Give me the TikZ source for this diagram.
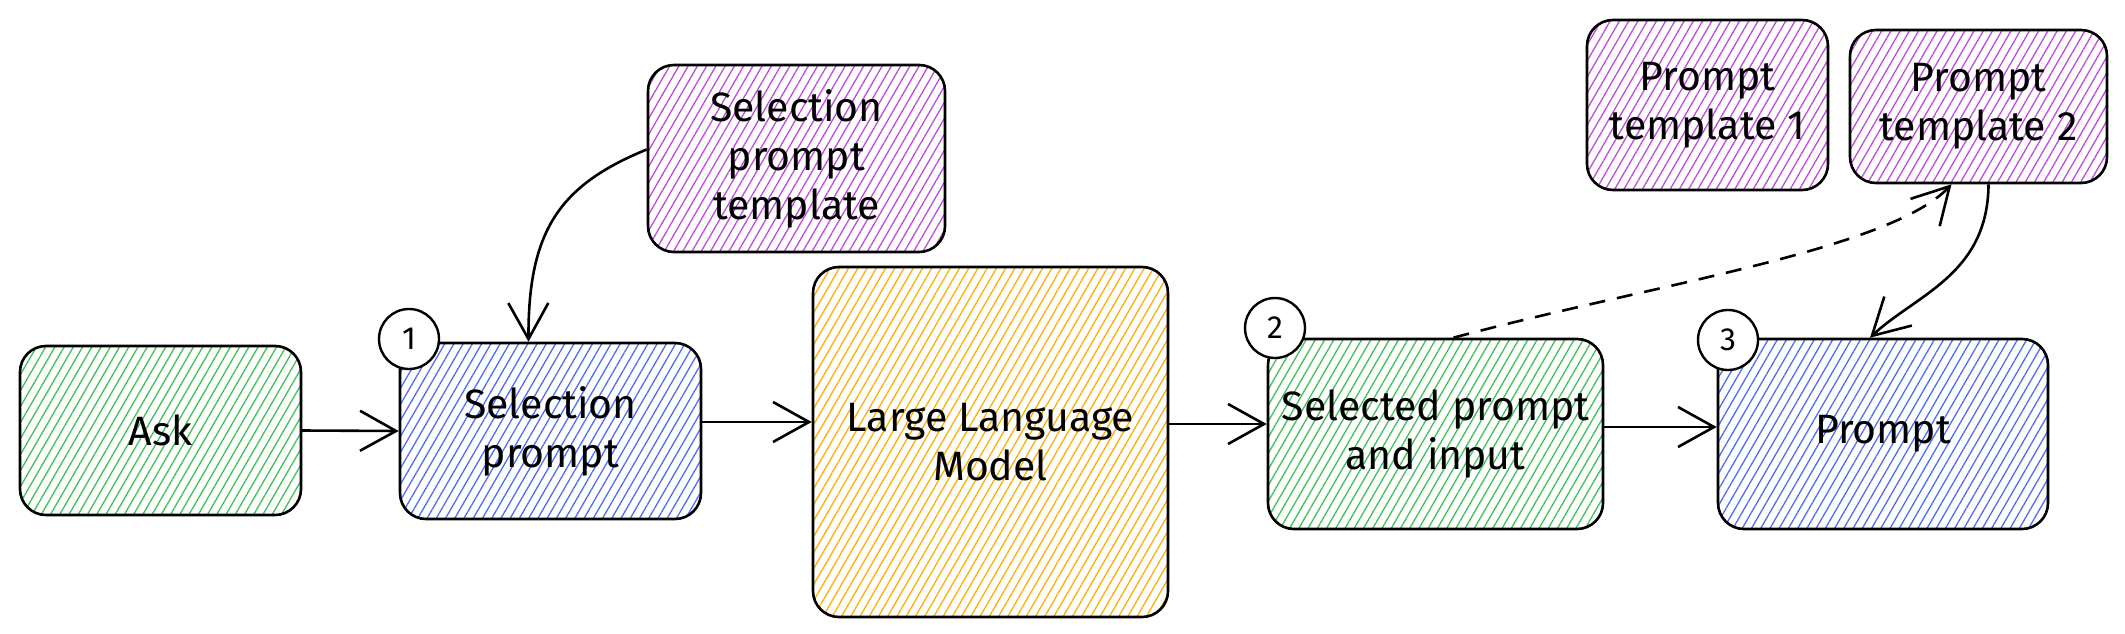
\documentclass[tikz,border=0pt]{standalone}
\usepackage{fontspec}
\setmainfont{Fira Sans}
\usetikzlibrary{arrows.meta,patterns.meta}
\definecolor{cgreen}{HTML}{40C057}
\definecolor{cblue}{HTML}{4C6EF5}
\definecolor{cpurple}{HTML}{BE4BDB}
\definecolor{corange}{HTML}{FAB005}
\tikzset{
  box/.style={draw=black, line width=2.6pt, rounded corners=26pt, align=center,
    font=\fontsize{41}{49}\selectfont, inner sep=4pt},
  hatch/.style={pattern={Lines[angle=60,distance=8pt,line width=1.3pt]}, pattern color=#1},
  numc/.style={circle, draw=black, line width=2.4pt, fill=white, minimum size=60pt,
    inner sep=0pt, font=\fontsize{32}{34}\selectfont},
  arr/.style={line width=2.6pt, -{Straight Barb[length=36pt,width=40pt,line width=2.6pt]}},
}
\begin{document}
\begin{tikzpicture}[x=1pt,y=-1pt]
\useasboundingbox (0,0) rectangle (2125,634);
\node[box, hatch=cgreen, minimum width=281pt, minimum height=169pt] (ask) at (160.5,430.5) {Ask};
\node[box, hatch=cblue, minimum width=301pt, minimum height=176pt] (sel) at (550.5,431) {Selection\\prompt};
\node[box, hatch=cpurple, minimum width=297pt, minimum height=187pt] (spt) at (796.5,158.5) {Selection\\prompt\\template};
\node[box, hatch=corange, minimum width=355pt, minimum height=350pt] (llm) at (990.5,442) {Large Language\\Model};
\node[box, hatch=cgreen, minimum width=335pt, minimum height=190pt] (spi) at (1435.5,434) {Selected prompt\\and input};
\node[box, hatch=cblue, minimum width=330pt, minimum height=190pt] (prm) at (1883,434) {Prompt};
\node[box, hatch=cpurple, minimum width=241pt, minimum height=170pt] (pt1) at (1707.5,105) {Prompt\\template 1};
\node[box, hatch=cpurple, minimum width=257pt, minimum height=153pt] (pt2) at (1978.5,106.5) {Prompt\\template 2};
\node[numc] (n1) at (409,339) {1};
\node[numc] (n2) at (1275,328) {2};
\node[numc] (n3) at (1728,340) {3};
\draw[arr] (ask.east) -- (sel.west);
\draw[arr] ([yshift=9pt]sel.east) -- ([yshift=9pt]sel.east -| llm.west);
\draw[arr] ([yshift=18pt]llm.east) -- ([yshift=18pt]llm.east -| spi.west);
\draw[arr] ([yshift=7pt]spi.east) -- ([yshift=7pt]spi.east -| prm.west);
\draw[arr] ([yshift=9pt]spt.west) .. controls (560,185) and (528,230) .. ([xshift=-22pt]sel.north);
\draw[arr, dashed, dash pattern=on 16pt off 12pt] ([xshift=18pt]spi.north) .. controls (1650,285) and (1890,250) .. ([xshift=-27pt]pt2.south);
\draw[arr] ([xshift=10pt]pt2.south) .. controls (1988,275) and (1915,295) .. ([xshift=-13pt]prm.north);
\end{tikzpicture}
\end{document}
